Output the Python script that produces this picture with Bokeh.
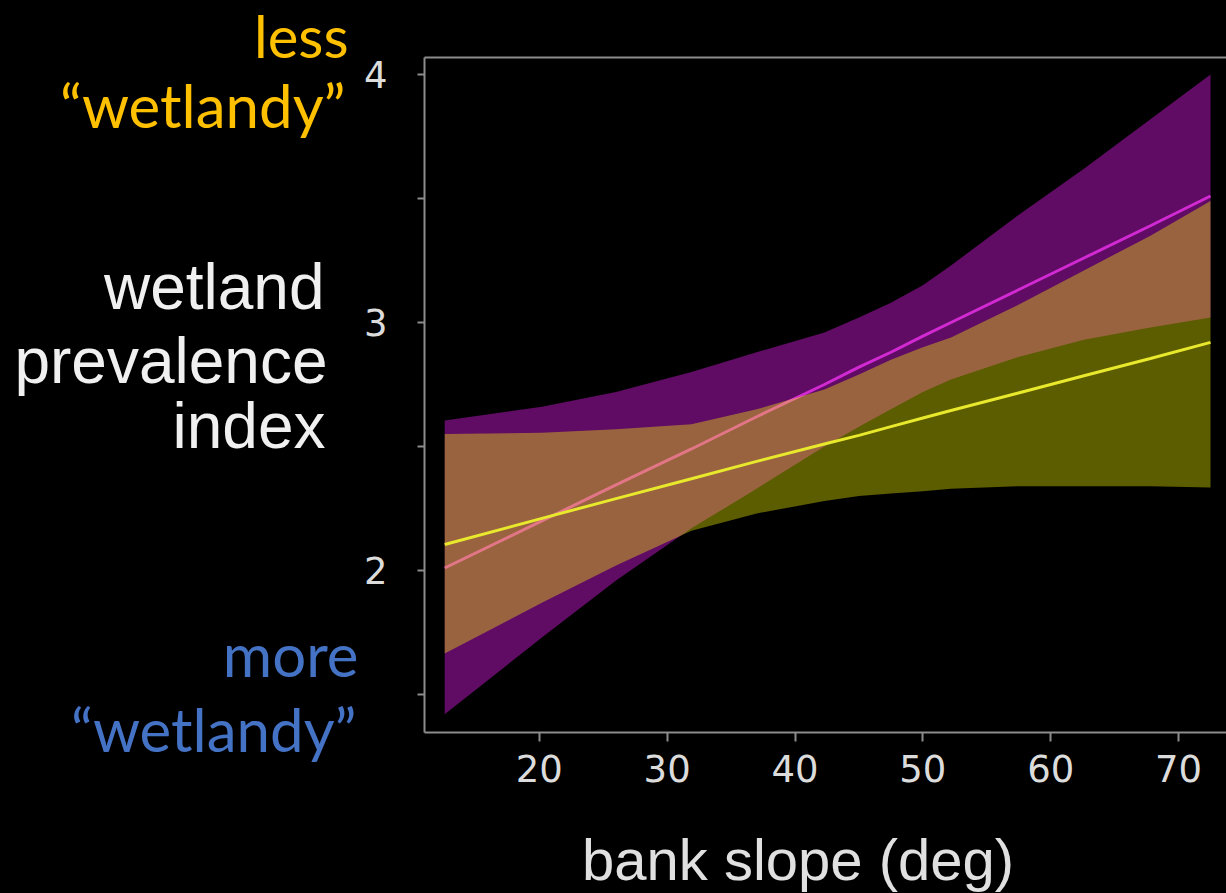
from bokeh.plotting import figure
from bokeh.layouts import row, column
from bokeh.models import Range1d, FixedTicker, LinearAxis
from bokeh.core.properties import value
from bokeh.embed import file_html
from bokeh.resources import INLINE

# ---- data ----
slope = [12.6, 20.2, 26.0, 31.9, 37.0, 42.3, 45.0, 47.5, 50.0, 52.2, 57.4, 62.6, 67.8, 72.5]

purple_fit = [2.01, 2.20, 2.345, 2.49, 2.62, 2.75, 2.82, 2.88, 2.945, 3.00, 3.13, 3.26, 3.39, 3.51]
purple_upper = [2.605, 2.66, 2.72, 2.80, 2.88, 2.96, 3.02, 3.08, 3.15, 3.23, 3.43, 3.62, 3.82, 4.00]
purple_lower = [1.42, 1.73, 1.96, 2.17, 2.33, 2.50, 2.58, 2.65, 2.72, 2.77, 2.86, 2.93, 2.98, 3.02]

yellow_fit = [2.105, 2.21, 2.29, 2.37, 2.44, 2.51, 2.545, 2.58, 2.615, 2.645, 2.715, 2.785, 2.855, 2.92]
yellow_upper = [2.55, 2.555, 2.57, 2.59, 2.65, 2.73, 2.79, 2.85, 2.90, 2.94, 3.07, 3.21, 3.35, 3.49]
yellow_lower = [1.665, 1.87, 2.02, 2.16, 2.23, 2.28, 2.30, 2.31, 2.32, 2.33, 2.34, 2.34, 2.34, 2.335]

x_ticks = [20, 30, 40, 50, 60, 70]
y_major_ticks = [2, 3, 4]
y_minor_ticks = [1.5, 2.5, 3.5]

x_title = "bank slope (deg)"
y_title_lines = ["wetland", "prevalence", "index"]
top_note = ["less", "\u201cwetlandy\u201d"]
bottom_note = ["more", "\u201cwetlandy\u201d"]

AX = "#8c8c8c"
ORANGE = "#ffc000"
BLUE = "#4472c4"
BG = "black"

def blank_fig(w, h, xr, yr):
    f = figure(width=w, height=h, output_backend="svg", toolbar_location=None,
               x_range=xr, y_range=yr, x_axis_type=None, y_axis_type=None,
               min_border=0, background_fill_color=BG, border_fill_color=BG)
    f.outline_line_color = None
    return f

# ---- left panel: side texts (page pixel coordinates, y downwards) ----
left = blank_fig(360, 893, Range1d(0, 360), Range1d(893, 0))
left.text(x=[348], y=[35], text=[top_note[0]], text_align="right",
          text_baseline="alphabetic", text_color=ORANGE,
          text_font=value("Lato"), text_font_size="58px")
left.text(x=[345], y=[104], text=[top_note[1]], text_align="right",
          text_baseline="alphabetic", text_color=ORANGE,
          text_font=value("Lato"), text_font_size="60px")
left.text(x=[358, 356], y=[653, 728], text=bottom_note, text_align="right",
          text_baseline="alphabetic", text_color=BLUE,
          text_font=value("Lato"), text_font_size="60px")
left.text(x=[324, 327, 325], y=[286, 360, 425], text=y_title_lines, text_align="right",
          text_baseline="alphabetic", text_color="#f0f0f0",
          text_font=value("Liberation Sans"), text_font_size="64px")

# ---- main plot ----
p = figure(width=866, height=815, output_backend="svg", toolbar_location=None,
           x_range=Range1d(11.02, 73.75), y_range=Range1d(1.3468, 4.0685),
           min_border_left=63, min_border_right=0, min_border_top=57, min_border_bottom=83,
           background_fill_color=BG, border_fill_color=BG)
p.outline_line_color = None
p.grid.visible = False

p.varea(x=slope, y1=purple_lower, y2=purple_upper, fill_color="#600c64", fill_alpha=1.0)
p.line(slope, purple_fit, line_color="#d22ad2", line_width=3)
p.varea(x=slope, y1=yellow_lower, y2=yellow_upper, fill_color="#ffff00", fill_alpha=0.36)
p.line(slope, yellow_fit, line_color="#e8e82c", line_width=3)

for ax in (p.xaxis[0], p.yaxis[0]):
    ax.axis_line_color = AX
    ax.axis_line_width = 2
    ax.major_tick_line_color = AX
    ax.major_tick_line_width = 2
    ax.major_tick_in = 0
    ax.major_label_text_color = "#dcdcdc"
    ax.major_label_text_font = "DejaVu Sans"
    ax.major_label_text_font_size = "37px"

p.xaxis.ticker = FixedTicker(ticks=x_ticks)
p.xaxis.major_tick_out = 9
p.xaxis.minor_tick_line_color = None
p.xaxis.major_label_standoff = 13

p.yaxis.ticker = FixedTicker(ticks=y_major_ticks, minor_ticks=y_minor_ticks)
p.yaxis.major_tick_out = 7
p.yaxis.minor_tick_out = 7
p.yaxis.minor_tick_in = 0
p.yaxis.minor_tick_line_color = AX
p.yaxis.minor_tick_line_width = 2
p.yaxis.major_label_standoff = 30

top_axis = LinearAxis(ticker=FixedTicker(ticks=[]), axis_line_color=AX, axis_line_width=2,
                      major_tick_line_color=None, minor_tick_line_color=None,
                      major_label_text_font_size="0px")
p.add_layout(top_axis, "above")

# ---- bottom strip: x-axis title (its frame is aligned with the main frame: 423..1226) ----
bottom = blank_fig(866, 78, Range1d(423, 1226), Range1d(893, 815))
bottom.text(x=[797], y=[859], text=[x_title], text_align="center",
            text_baseline="alphabetic", text_color="#e0e0e0",
            text_font=value("Liberation Sans"), text_font_size="58px")

layout = row(left, column(p, bottom, spacing=0), spacing=0)

html = file_html(layout, INLINE)
html = html.replace("</head>",
                    "<style>html, body { background-color: #000000 !important; }</style></head>", 1)
open("out.html", "w").write(html)
